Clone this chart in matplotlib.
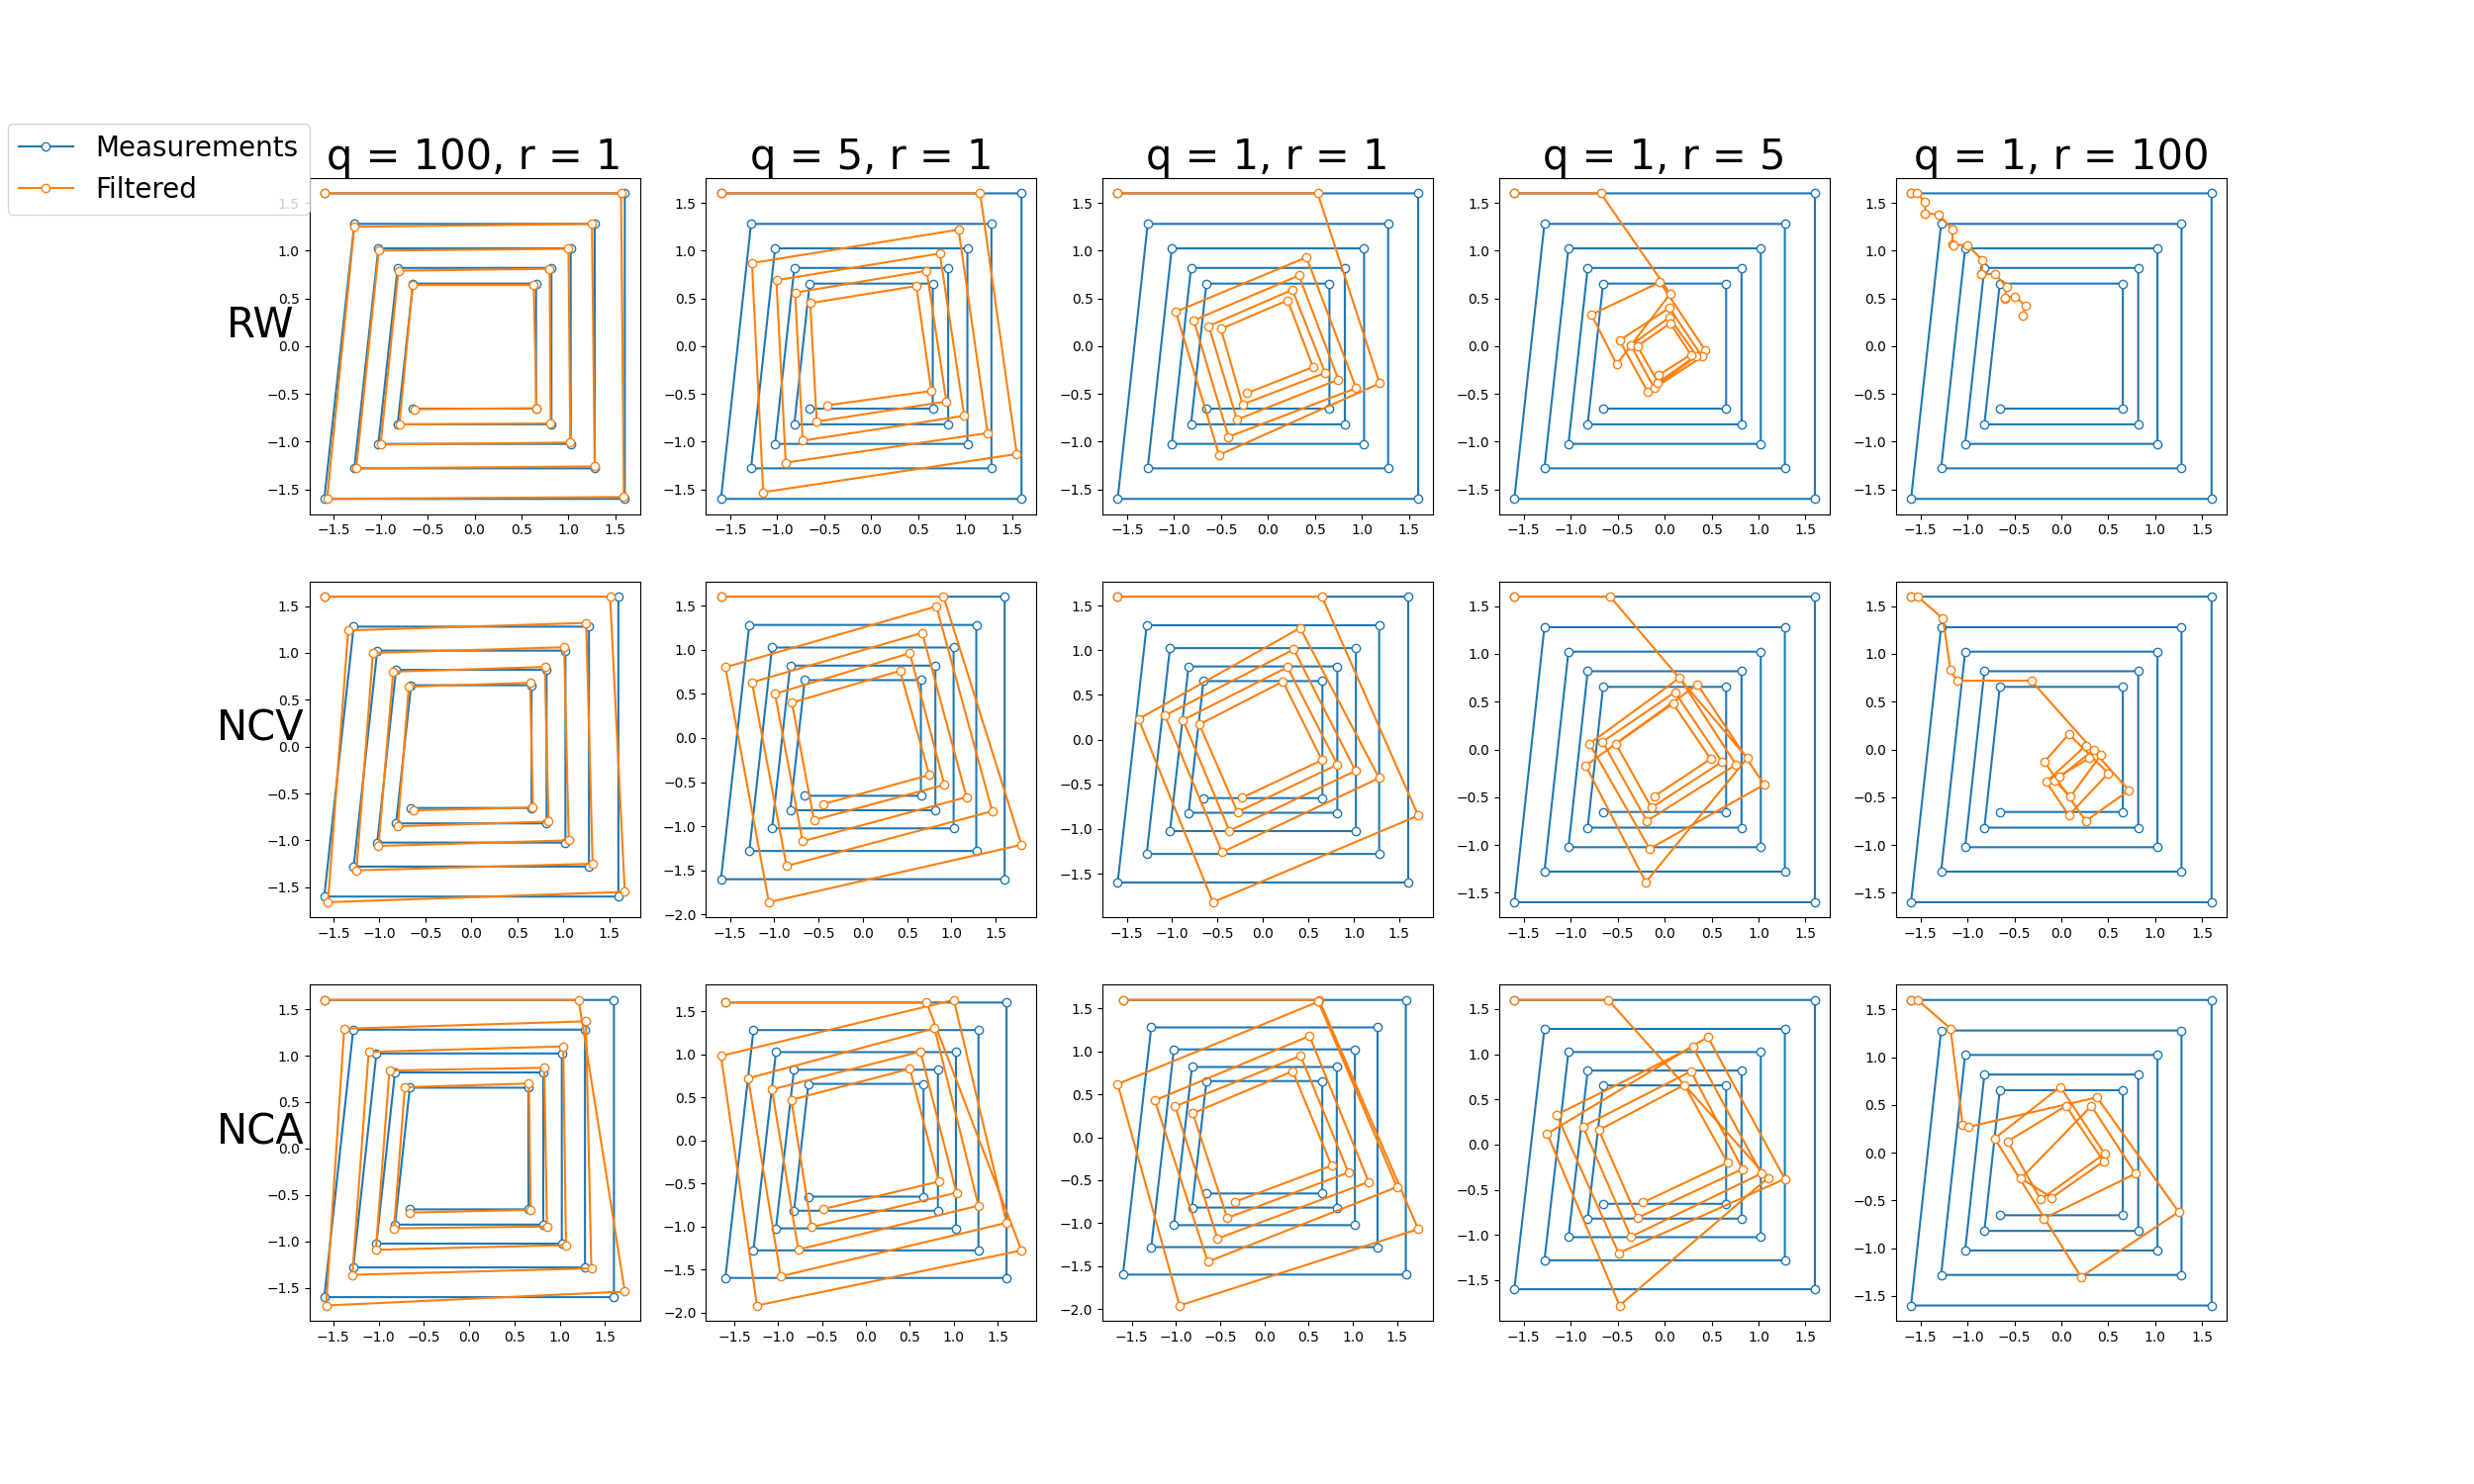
import numpy as np
import matplotlib.pyplot as plt

# measured spiral (same in every panel)
meas_x = [-1.6, 1.6, 1.6, -1.6, -1.28, 1.28, 1.28, -1.28, -1.024, 1.024, 1.024, -1.024,
          -0.819, 0.819, 0.819, -0.819, -0.655, 0.655, 0.655, -0.655]
meas_y = [1.6, 1.6, -1.6, -1.6, 1.28, 1.28, -1.28, -1.28, 1.024, 1.024, -1.024, -1.024,
          0.819, 0.819, -0.819, -0.819, 0.655, 0.655, -0.655, -0.655]

titles = ["q = 100, r = 1", "q = 5, r = 1", "q = 1, r = 1", "q = 1, r = 5", "q = 1, r = 100"]
models = ["RW", "NCV", "NCA"]

# RW filter
rw_q100_x = [-1.60, 1.56, 1.59, -1.57, -1.28, 1.25, 1.28, -1.26, -1.02, 1.00, 1.02, -1.00, -0.81, 0.80, 0.81, -0.80, -0.66, 0.63, 0.66, -0.64]
rw_q100_y = [1.60, 1.60, -1.58, -1.60, 1.25, 1.28, -1.26, -1.28, 1.00, 1.02, -1.01, -1.03, 0.79, 0.81, -0.81, -0.82, 0.64, 0.64, -0.65, -0.66]
rw_q5_x = [-1.60, 1.16, 1.55, -1.15, -1.27, 0.93, 1.24, -0.91, -1.01, 0.73, 0.99, -0.73, -0.81, 0.59, 0.80, -0.58, -0.65, 0.48, 0.64, -0.47]
rw_q5_y = [1.60, 1.60, -1.13, -1.53, 0.87, 1.22, -0.91, -1.22, 0.69, 0.97, -0.73, -0.99, 0.56, 0.79, -0.58, -0.79, 0.45, 0.63, -0.47, -0.62]
rw_q1_x = [-1.60, 0.53, 1.19, -0.52, -0.98, 0.41, 0.94, -0.42, -0.79, 0.33, 0.75, -0.33, -0.63, 0.26, 0.61, -0.27, -0.50, 0.21, 0.48, -0.22]
rw_q1_y = [1.60, 1.60, -0.39, -1.14, 0.36, 0.93, -0.44, -0.95, 0.27, 0.74, -0.35, -0.77, 0.21, 0.59, -0.28, -0.61, 0.18, 0.48, -0.22, -0.49]
rw_r5_x = [-1.60, -0.68, 0.06, -0.51, -0.78, -0.05, 0.43, -0.18, -0.48, 0.05, 0.40, -0.11, -0.36, 0.05, 0.34, -0.07, -0.29, 0.06, 0.28, -0.06]
rw_r5_y = [1.60, 1.60, 0.55, -0.19, 0.33, 0.67, -0.04, -0.48, 0.06, 0.40, -0.11, -0.44, 0.01, 0.30, -0.10, -0.38, 0.00, 0.24, -0.09, -0.30]
rw_r100_x = [-1.60, -1.54, -1.45, -1.45, -1.45, -1.31, -1.16, -1.16, -1.15, -1.00, -0.84, -0.85, -0.85, -0.71, -0.58, -0.60, -0.60, -0.49, -0.38, -0.41]
rw_r100_y = [1.60, 1.60, 1.51, 1.39, 1.39, 1.38, 1.22, 1.07, 1.06, 1.06, 0.90, 0.75, 0.75, 0.76, 0.62, 0.50, 0.51, 0.52, 0.42, 0.32]

# NCV filter
ncv_q100_x = [-1.60, 1.51, 1.67, -1.56, -1.34, 1.25, 1.32, -1.25, -1.07, 1.01, 1.06, -1.01, -0.85, 0.80, 0.84, -0.80, -0.68, 0.64, 0.67, -0.63]
ncv_q100_y = [1.60, 1.60, -1.55, -1.66, 1.24, 1.32, -1.25, -1.32, 1.00, 1.06, -1.00, -1.06, 0.80, 0.85, -0.80, -0.85, 0.64, 0.68, -0.65, -0.68]
ncv_q5_x = [-1.60, 0.91, 1.79, -1.06, -1.55, 0.83, 1.46, -0.86, -1.25, 0.67, 1.17, -0.68, -0.99, 0.53, 0.92, -0.55, -0.80, 0.42, 0.75, -0.45]
ncv_q5_y = [1.60, 1.60, -1.21, -1.86, 0.80, 1.49, -0.83, -1.45, 0.63, 1.19, -0.67, -1.17, 0.50, 0.96, -0.53, -0.93, 0.40, 0.76, -0.42, -0.75]
ncv_q1_x = [-1.60, 0.65, 1.71, -0.55, -1.37, 0.41, 1.28, -0.45, -1.08, 0.34, 1.02, -0.37, -0.88, 0.27, 0.82, -0.28, -0.70, 0.22, 0.65, -0.23]
ncv_q1_y = [1.60, 1.60, -0.85, -1.82, 0.23, 1.25, -0.43, -1.26, 0.27, 1.01, -0.35, -1.02, 0.22, 0.81, -0.28, -0.81, 0.17, 0.65, -0.23, -0.65]
ncv_r5_x = [-1.60, -0.58, 0.88, -0.20, -0.84, 0.35, 1.06, -0.16, -0.80, 0.16, 0.76, -0.19, -0.66, 0.11, 0.61, -0.14, -0.52, 0.09, 0.49, -0.11]
ncv_r5_y = [1.60, 1.60, -0.09, -1.39, -0.17, 0.68, -0.37, -1.04, 0.06, 0.75, -0.16, -0.75, 0.08, 0.60, -0.13, -0.61, 0.06, 0.48, -0.10, -0.49]
ncv_r100_x = [-1.60, -1.53, -1.26, -1.18, -1.11, -0.32, 0.72, 0.26, -0.18, 0.08, 0.50, 0.08, -0.16, 0.26, 0.42, 0.10, -0.07, 0.35, 0.30, -0.02]
ncv_r100_y = [1.60, 1.60, 1.37, 0.83, 0.72, 0.72, -0.43, -0.75, -0.13, 0.16, -0.25, -0.69, -0.34, 0.04, -0.06, -0.49, -0.33, 0.00, -0.09, -0.28]

# NCA filter
nca_q100_x = [-1.60, 1.21, 1.72, -1.58, -1.38, 1.29, 1.35, -1.29, -1.11, 1.04, 1.07, -1.03, -0.88, 0.83, 0.86, -0.83, -0.71, 0.66, 0.68, -0.66]
nca_q100_y = [1.60, 1.60, -1.54, -1.69, 1.29, 1.37, -1.29, -1.36, 1.04, 1.10, -1.04, -1.09, 0.84, 0.87, -0.84, -0.86, 0.66, 0.70, -0.66, -0.69]
nca_q5_x = [-1.60, 0.69, 1.77, -1.24, -1.65, 1.00, 1.60, -0.97, -1.34, 0.78, 1.28, -0.77, -1.07, 0.62, 1.03, -0.62, -0.85, 0.50, 0.83, -0.49]
nca_q5_y = [1.60, 1.60, -1.28, -1.92, 0.98, 1.63, -0.96, -1.58, 0.72, 1.30, -0.76, -1.27, 0.59, 1.03, -0.61, -1.01, 0.47, 0.83, -0.48, -0.80]
nca_q1_x = [-1.60, 0.62, 1.74, -0.96, -1.66, 0.61, 1.50, -0.64, -1.24, 0.51, 1.18, -0.53, -1.01, 0.41, 0.95, -0.42, -0.81, 0.32, 0.76, -0.33]
nca_q1_y = [1.60, 1.60, -1.07, -1.96, 0.62, 1.58, -0.58, -1.45, 0.43, 1.18, -0.52, -1.18, 0.36, 0.95, -0.41, -0.94, 0.28, 0.77, -0.33, -0.75]
nca_r5_x = [-1.60, -0.60, 1.10, -0.48, -1.25, 0.46, 1.28, -0.49, -1.15, 0.30, 1.03, -0.36, -0.87, 0.28, 0.83, -0.29, -0.70, 0.21, 0.67, -0.23]
nca_r5_y = [1.60, 1.60, -0.37, -1.78, 0.12, 1.19, -0.38, -1.20, 0.33, 1.08, -0.32, -1.02, 0.20, 0.81, -0.27, -0.81, 0.16, 0.66, -0.20, -0.64]
nca_r100_x = [-1.60, -1.53, -1.18, -1.05, -0.99, 0.38, 1.25, 0.21, -0.71, -0.01, 0.46, -0.22, -0.57, 0.05, 0.45, -0.10, -0.43, 0.32, 0.79, -0.19]
nca_r100_y = [1.60, 1.60, 1.30, 0.29, 0.27, 0.58, -0.62, -1.30, 0.15, 0.69, -0.01, -0.49, 0.12, 0.49, -0.09, -0.47, -0.27, 0.49, -0.22, -0.69]

filtered = [
    [(rw_q100_x, rw_q100_y), (rw_q5_x, rw_q5_y), (rw_q1_x, rw_q1_y), (rw_r5_x, rw_r5_y), (rw_r100_x, rw_r100_y)],
    [(ncv_q100_x, ncv_q100_y), (ncv_q5_x, ncv_q5_y), (ncv_q1_x, ncv_q1_y), (ncv_r5_x, ncv_r5_y), (ncv_r100_x, ncv_r100_y)],
    [(nca_q100_x, nca_q100_y), (nca_q5_x, nca_q5_y), (nca_q1_x, nca_q1_y), (nca_r5_x, nca_r5_y), (nca_r100_x, nca_r100_y)],
]

fig, axes = plt.subplots(3, 5, figsize=(25, 15), dpi=100)

for i in range(3):
    for j in range(5):
        ax = axes[i, j]
        fx, fy = filtered[i][j]
        ax.plot(meas_x, meas_y, marker="o", markerfacecolor="white", markersize=6, label="Measurements")
        ax.plot(fx, fy, marker="o", markerfacecolor="white", markersize=6, label="Filtered")
        if i == 0:
            ax.set_title(titles[j], fontsize=30)
        if j == 0:
            ax.set_ylabel(models[i], rotation=0, fontsize=30)

handles, labels = axes[0, 0].get_legend_handles_labels()
fig.legend(handles, labels, loc="upper left", bbox_to_anchor=(0.003, 0.917), fontsize=20, borderaxespad=0)

fig.savefig("out.png")
